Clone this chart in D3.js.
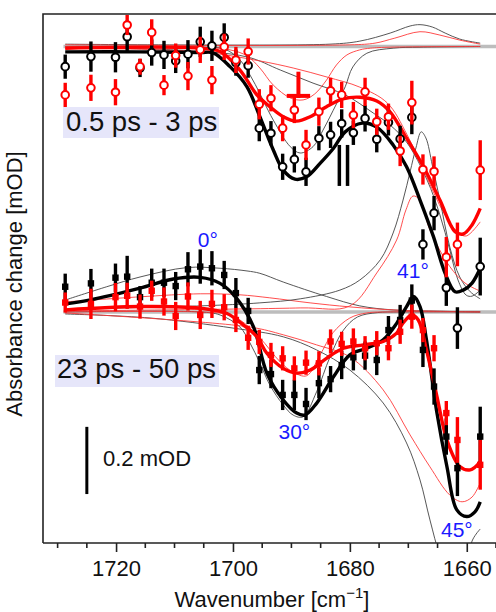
<!DOCTYPE html>
<html>
<head>
<meta charset="utf-8">
<script src="https://cdn.jsdelivr.net/npm/d3@7"></script>
<style>
body { margin: 0; background: #fff; }
svg { display: block; }
text { font-family: "Liberation Sans", Arial, sans-serif; }
</style>
</head>
<body>
<svg id="chart"></svg>
<script>
var w = 496, h = 612;

// wavenumbers of the measured points (cm-1)
let waves = [1728.7, 1724.3, 1720.1, 1718.1, 1715.9, 1713.9, 1711.8, 1709.8, 1707.7, 1705.6, 1703.6,
  1701.5, 1699.5, 1697.4, 1695.5, 1693.5, 1691.5, 1689.5, 1687.5, 1685.3, 1683.3, 1681.4, 1679.4,
  1677.4, 1675.4, 1673.4, 1671.4, 1669.4, 1667.5, 1665.6, 1663.5, 1661.6, 1657.7];

// 0.5 ps - 3 ps (mOD)
let earlyBlack = [-0.060, -0.030, -0.032, 0.029, -0.064, -0.018, -0.025, -0.043, -0.023, 0.014, 0.002,
  0.027, -0.048, -0.057, -0.243, -0.258, -0.358, -0.336, -0.373, -0.273, -0.263, -0.229, -0.257,
  -0.214, -0.276, -0.226, -0.275, -0.211, -0.589, -0.496, -0.718, -0.838, -0.655];
let earlyBlackErr = [0.036, 0.045, 0.045, 0.048, 0.027, 0.039, 0.042, 0.036, 0.042, 0.045, 0.045,
  0.042, 0.039, 0.036, 0.039, 0.036, 0.039, 0.039, 0.042, 0.036, 0.039, 0.042, 0.036,
  0.039, 0.039, 0.039, 0.039, 0.050, 0.045, 0.051, 0.054, 0.062, 0.086];
let earlyRed = [-0.144, -0.123, -0.136, 0.064, -0.060, 0.042, -0.115, -0.027, -0.088, -0.010, -0.100,
  -0.001, -0.040, -0.015, -0.172, -0.154, -0.243, -0.189, -0.293, -0.194, -0.132, -0.144, -0.204,
  -0.135, -0.224, -0.209, -0.311, -0.167, -0.366, -0.372, -0.627, -0.589, -0.368];
let earlyRedErr = [0.036, 0.039, 0.039, 0.030, 0.024, 0.039, 0.030, 0.036, 0.042, 0.039, 0.042,
  0.039, 0.039, 0.039, 0.045, 0.039, 0.039, 0.039, 0.045, 0.042, 0.039, 0.039, 0.039,
  0.042, 0.039, 0.039, 0.045, 0.065, 0.045, 0.045, 0.060, 0.065, 0.089];

// 23 ps - 50 ps (mOD, relative to its own baseline)
let lateBlack = [0.075, 0.085, 0.102, 0.105, 0.044, 0.087, 0.087, 0.077, 0.127, 0.135, 0.130,
  0.110, 0.056, 0.003, -0.173, -0.185, -0.247, -0.247, -0.274, -0.212, -0.200, -0.158, -0.135,
  -0.130, -0.143, -0.054, -0.024, 0.034, -0.113, -0.222, -0.371, -0.465, -0.371];
let lateBlackErr = [0.039, 0.043, 0.042, 0.062, 0.033, 0.042, 0.042, 0.042, 0.051, 0.051, 0.051,
  0.042, 0.045, 0.039, 0.042, 0.042, 0.045, 0.045, 0.048, 0.045, 0.039, 0.042, 0.039,
  0.042, 0.045, 0.042, 0.045, 0.048, 0.051, 0.054, 0.054, 0.083, 0.089];
let lateRed = [0.028, 0.024, 0.044, 0.048, 0.016, 0.063, 0.031, -0.012, 0.046, -0.009, 0.024,
  0.014, -0.024, -0.077, -0.089, -0.128, -0.138, -0.168, -0.151, -0.153, -0.088, -0.095, -0.088,
  -0.108, -0.093, -0.108, -0.059, -0.014, -0.054, -0.108, -0.301, -0.381, -0.455];
let lateRedErr = [0.030, 0.045, 0.042, 0.039, 0.036, 0.030, 0.042, 0.042, 0.042, 0.042, 0.042,
  0.039, 0.036, 0.036, 0.036, 0.036, 0.036, 0.036, 0.036, 0.036, 0.036, 0.036, 0.039,
  0.036, 0.036, 0.036, 0.036, 0.036, 0.036, 0.039, 0.036, 0.068, 0.074];

// fitted curves [wavenumber, mOD]
let earlyFitBlack = [[1728.7, -0.016], [1715.9, -0.016], [1705.6, -0.018], [1703.4, -0.019], [1700.5, -0.060],
  [1697.6, -0.120], [1695.4, -0.209], [1693.1, -0.308], [1691.4, -0.368], [1689.4, -0.395], [1687.4, -0.388],
  [1685.1, -0.348], [1682.8, -0.303], [1680.8, -0.254], [1677.9, -0.228], [1675.4, -0.240], [1672.6, -0.293],
  [1670.3, -0.358], [1668.0, -0.457], [1665.7, -0.566], [1663.7, -0.675], [1662.0, -0.730], [1660.6, -0.725],
  [1659.1, -0.704], [1657.7, -0.660]];
let earlyFitRed = [[1728.7, -0.005], [1705.6, -0.005], [1702.2, -0.015], [1698.8, -0.070], [1695.9, -0.144],
  [1693.7, -0.179], [1691.4, -0.209], [1689.1, -0.222], [1686.8, -0.209], [1684.0, -0.179], [1681.2, -0.156],
  [1678.3, -0.151], [1675.4, -0.162], [1673.1, -0.195], [1670.3, -0.273], [1667.4, -0.358], [1664.6, -0.457],
  [1662.0, -0.551], [1660.6, -0.558], [1659.1, -0.531], [1657.7, -0.482]];
let lateFitBlack = [[1728.6, 0.024], [1724.4, 0.036], [1715.9, 0.071], [1710.2, 0.098], [1705.6, 0.103],
  [1702.2, 0.085], [1699.4, 0.041], [1696.5, -0.044], [1694.2, -0.182], [1691.4, -0.262], [1689.1, -0.301],
  [1687.7, -0.307], [1685.7, -0.272], [1682.8, -0.193], [1680.0, -0.128], [1677.1, -0.108], [1674.3, -0.083],
  [1672.0, -0.034], [1670.3, 0.016], [1669.1, 0.046], [1668.0, 0.016], [1666.9, -0.083], [1665.1, -0.301],
  [1663.4, -0.460], [1661.7, -0.589], [1660.0, -0.609], [1658.6, -0.595], [1657.7, -0.565]];
let lateFitRed = [[1728.6, 0.006], [1715.9, 0.016], [1705.6, 0.011], [1701.1, -0.004], [1698.2, -0.039],
  [1695.9, -0.074], [1694.2, -0.123], [1691.4, -0.168], [1689.1, -0.182], [1686.8, -0.173], [1684.0, -0.138],
  [1681.1, -0.108], [1677.7, -0.098], [1674.3, -0.088], [1672.0, -0.063], [1670.9, -0.033], [1669.4, -0.009],
  [1668.3, -0.024], [1666.9, -0.113], [1665.1, -0.252], [1663.4, -0.381], [1661.2, -0.460], [1659.4, -0.470],
  [1657.7, -0.446]];

// band components, early window
let earlyPosBlack = [[1728.7, 0.007], [1683.4, 0.007], [1678.3, 0.016], [1673.1, 0.040], [1669.7, 0.061],
  [1668.0, 0.065], [1665.9, 0.058], [1663.7, 0.040], [1661.2, 0.022], [1657.7, 0.010]];
let earlyPosRed = [[1728.7, 0.005], [1680.0, 0.005], [1675.7, 0.010], [1672.3, 0.025], [1668.0, 0.044],
  [1664.6, 0.034], [1661.2, 0.019], [1657.7, 0.007]];
let earlyBroadBlack = [[1728.7, -0.005], [1710.2, -0.010], [1697.6, -0.031], [1691.9, -0.070], [1686.3, -0.109],
  [1680.8, -0.144], [1676.0, -0.198], [1673.1, -0.234], [1670.2, -0.287], [1666.8, -0.397], [1664.6, -0.501],
  [1662.9, -0.606], [1661.5, -0.695], [1660.1, -0.740], [1659.1, -0.743], [1657.7, -0.725]];
let earlyBroadRed = [[1728.7, -0.005], [1705.6, -0.016], [1695.4, -0.043], [1689.7, -0.064], [1683.9, -0.091],
  [1678.3, -0.121], [1673.6, -0.168], [1670.2, -0.263], [1666.8, -0.391], [1664.0, -0.493], [1661.6, -0.552],
  [1660.1, -0.564], [1657.7, -0.522]];
let earlyDipBlack = [[1728.7, 0], [1705.6, -0.002], [1701.4, -0.008], [1698.8, -0.040], [1696.6, -0.100],
  [1693.1, -0.219], [1690.2, -0.298], [1688.5, -0.317], [1686.3, -0.298], [1684.6, -0.249], [1682.3, -0.171],
  [1680.8, -0.120], [1679.5, -0.061], [1677.1, -0.020], [1672.6, -0.005], [1668.0, -0.002], [1657.7, 0]];
let earlyDipRed = [[1728.7, 0], [1705.6, -0.002], [1700.5, -0.010], [1697.6, -0.028], [1695.4, -0.064],
  [1693.1, -0.115], [1690.2, -0.153], [1688.0, -0.159], [1686.0, -0.141], [1684.0, -0.100], [1682.3, -0.055],
  [1680.5, -0.025], [1678.3, -0.010], [1676.5, -0.005], [1673.1, -0.002], [1657.7, 0]];

// band components, late window (0°, 30°, 41°, 45°)
let late0Black = [[1728.6, 0.036], [1721.6, 0.075], [1715.9, 0.104], [1707.9, 0.132], [1702.2, 0.130],
  [1697.6, 0.122], [1695.4, 0.115], [1691.4, 0.089], [1684.0, 0.046], [1678.3, 0.018], [1672.6, 0.006],
  [1664.6, 0.002], [1657.7, 0]];
let late0Red = [[1728.6, 0.030], [1715.9, 0.045], [1705.6, 0.054], [1698.8, 0.051], [1693.7, 0.042],
  [1686.8, 0.027], [1680.0, 0.015], [1671.4, 0.005], [1657.7, 0]];
let late30Black = [[1728.7, 0], [1705.6, 0], [1702.2, -0.009], [1698.8, -0.045], [1697.1, -0.092],
  [1695.4, -0.152], [1693.7, -0.217], [1691.4, -0.277], [1689.7, -0.307], [1688.0, -0.312], [1685.7, -0.238],
  [1683.4, -0.134], [1681.1, -0.054], [1678.7, -0.015], [1675.3, -0.002], [1671.4, 0], [1657.7, 0]];
let late30Red = [[1728.7, 0], [1705.6, 0], [1701.4, -0.006], [1698.8, -0.024], [1695.4, -0.077],
  [1691.9, -0.149], [1689.7, -0.179], [1687.4, -0.190], [1685.1, -0.128], [1682.9, -0.062], [1680.0, -0.018],
  [1677.1, -0.003], [1673.1, 0], [1657.7, 0]];
let late41Black = [[1728.7, 0.009], [1705.6, 0.018], [1695.4, 0.027], [1688.5, 0.039], [1681.7, 0.065],
  [1678.3, 0.095], [1674.8, 0.155], [1672.6, 0.235], [1670.9, 0.333], [1669.7, 0.417], [1668.7, 0.488],
  [1667.8, 0.536], [1667.0, 0.518], [1665.9, 0.437], [1664.6, 0.333], [1662.9, 0.193], [1661.2, 0.104],
  [1659.4, 0.060], [1657.7, 0.039]];
let late41Red = [[1728.7, 0.003], [1688.5, 0.012], [1680.0, 0.018], [1675.4, 0.116], [1672.0, 0.214],
  [1670.4, 0.304], [1669.2, 0.345], [1668.0, 0.333], [1666.3, 0.244], [1662.9, 0.135], [1660.3, 0.086],
  [1657.7, 0.062]];
let late45Black = [[1728.7, -0.006], [1714.2, -0.018], [1700.0, -0.048], [1691.4, -0.074], [1685.7, -0.113],
  [1680.0, -0.173], [1674.3, -0.271], [1670.3, -0.390], [1668.0, -0.500], [1666.3, -0.619], [1664.6, -0.723],
  [1662.9, -0.780], [1661.5, -0.786], [1660.1, -0.744], [1659.1, -0.682], [1658.4, -0.661], [1657.7, -0.646]];
let late45Red = [[1728.7, -0.003], [1697.1, -0.045], [1691.4, -0.068], [1685.7, -0.098], [1680.0, -0.134],
  [1674.3, -0.232], [1669.7, -0.366], [1666.3, -0.461], [1662.9, -0.545], [1660.8, -0.565], [1659.1, -0.551],
  [1657.7, -0.509]];

// small markers drawn in the figure
let redMarkStem = [[1688.8, -0.075], [1688.8, -0.153]];
let redMarkBar = [[1690.8, -0.147], [1686.8, -0.147]];
let blackMarks = [[1681.8, -0.293, -0.415], [1680.4, -0.293, -0.415]];

let majorTicks = [1720, 1700, 1680, 1660];
let minorTicks = d3.range(1730, 1654, -5);
let lateOffset = -0.79;
// angle labels: text, wavenumber, mOD relative to the late baseline
let angleLabels = [["0°", 1704.3, 0.194], ["30°", 1689.5, -0.379], ["41°", 1669.2, 0.101], ["45°", 1661.7, -0.669]];
// 0.2 mOD scale bar, relative to the late baseline
let scaleBar = [-0.342, -0.542];
let scaleBarWave = 1725.0;

var x = d3.scaleLinear().domain([1732.5, 1655]).range([43, 496]);
var y = d3.scaleLinear().domain([0, -1]).range([46.5, 382.5]);

var svg = d3.select("#chart").attr("width", w).attr("height", h);

svg.append("clipPath").attr("id", "plotclip")
  .append("rect").attr("x", 43).attr("y", 14).attr("width", 470).attr("height", 529);
var g = svg.append("g").attr("clip-path", "url(#plotclip)");

function curve(off) {
  return d3.line()
    .x(d => x(d[0]))
    .y(d => y(d[1] + off))
    .curve(d3.curveCatmullRom.alpha(0.5));
}

// zero lines
[0, lateOffset].forEach(off => {
  g.append("line")
    .attr("x1", x(1729)).attr("x2", x(1654))
    .attr("y1", y(off)).attr("y2", y(off))
    .attr("stroke", "#bdbdbd").attr("stroke-width", 3.5);
});

// thin components
let thin = [
  [earlyPosBlack, 0, "#444"], [earlyPosRed, 0, "#ff3a3a"],
  [earlyBroadBlack, 0, "#444"], [earlyBroadRed, 0, "#ff3a3a"],
  [earlyDipBlack, 0, "#444"], [earlyDipRed, 0, "#ff3a3a"],
  [late0Black, lateOffset, "#444"], [late0Red, lateOffset, "#ff3a3a"],
  [late30Black, lateOffset, "#444"], [late30Red, lateOffset, "#ff3a3a"],
  [late41Black, lateOffset, "#444"], [late41Red, lateOffset, "#ff3a3a"],
  [late45Black, lateOffset, "#444"], [late45Red, lateOffset, "#ff3a3a"]
];
thin.forEach(t => {
  g.append("path").attr("d", curve(t[1])(t[0]))
    .attr("fill", "none").attr("stroke", t[2]).attr("stroke-width", 0.9);
});

// fits
[[earlyFitBlack, 0, "black"], [earlyFitRed, 0, "red"], [lateFitBlack, lateOffset, "black"], [lateFitRed, lateOffset, "red"]]
  .forEach(t => {
    g.append("path").attr("d", curve(t[1])(t[0]))
      .attr("fill", "none").attr("stroke", t[2]).attr("stroke-width", 3.4);
  });

// data points with error bars
function points(vals, errs, off, col, shape) {
  var pts = waves.map((wv, i) => ({ w: wv, v: vals[i], e: errs[i] }));
  g.selectAll(null).data(pts).enter().append("line")
    .attr("x1", d => x(d.w)).attr("x2", d => x(d.w))
    .attr("y1", d => y(d.v + off + d.e)).attr("y2", d => y(d.v + off - d.e))
    .attr("stroke", col).attr("stroke-width", 3.4);
  if (shape == "circle") {
    g.selectAll(null).data(pts).enter().append("circle")
      .attr("cx", d => x(d.w)).attr("cy", d => y(d.v + off)).attr("r", 3.8)
      .attr("fill", "white").attr("stroke", col).attr("stroke-width", 2);
  } else {
    g.selectAll(null).data(pts).enter().append("rect")
      .attr("x", d => x(d.w) - 3.2).attr("y", d => y(d.v + off) - 3.2)
      .attr("width", 6.4).attr("height", 6.4).attr("fill", col);
  }
}
points(earlyBlack, earlyBlackErr, 0, "black", "circle");
points(earlyRed, earlyRedErr, 0, "red", "circle");
points(lateBlack, lateBlackErr, lateOffset, "black", "square");
points(lateRed, lateRedErr, lateOffset, "red", "square");

// extra markers
var seg = d3.line().x(d => x(d[0])).y(d => y(d[1]));
g.append("path").attr("d", seg(redMarkStem)).attr("stroke", "red").attr("stroke-width", 4);
g.append("path").attr("d", seg(redMarkBar)).attr("stroke", "red").attr("stroke-width", 4);
blackMarks.forEach(m => {
  g.append("line").attr("x1", x(m[0])).attr("x2", x(m[0]))
    .attr("y1", y(m[1])).attr("y2", y(m[2]))
    .attr("stroke", "black").attr("stroke-width", 3.5);
});

// window labels
function windowLabel(txt, bx, by, bw, bh, tx, ty) {
  svg.append("rect").attr("x", bx).attr("y", by).attr("width", bw).attr("height", bh).attr("fill", "#e6e6fa");
  svg.append("text").attr("x", tx).attr("y", ty).attr("font-size", 27.5).attr("fill", "#111").text(txt);
}
windowLabel("0.5 ps - 3 ps", 63, 107, 156, 31, 66, 131);
windowLabel("23 ps - 50 ps", 55, 355, 164, 32, 57, 378);

// angle labels
svg.selectAll(".ang").data(angleLabels).enter().append("text")
  .attr("class", "ang")
  .attr("x", d => x(d[1])).attr("y", d => y(d[2] + lateOffset))
  .attr("text-anchor", "middle").attr("font-size", 21).attr("fill", "#1a1aff")
  .text(d => d[0]);

// scale bar
svg.append("line").attr("x1", x(scaleBarWave)).attr("x2", x(scaleBarWave))
  .attr("y1", y(scaleBar[0] + lateOffset)).attr("y2", y(scaleBar[1] + lateOffset))
  .attr("stroke", "black").attr("stroke-width", 3);
svg.append("text").attr("x", 103).attr("y", 466).attr("font-size", 22).attr("fill", "#111").text("0.2 mOD");

// frame and axes
svg.append("path").attr("d", "M43,543V14H520").attr("fill", "none").attr("stroke", "#222").attr("stroke-width", 1.6);

var axis = svg.append("g").attr("transform", "translate(0,543)")
  .call(d3.axisBottom(x).tickValues(majorTicks).tickSize(9).tickSizeOuter(0).tickFormat(d3.format("d")));
axis.select(".domain").attr("stroke", "#222").attr("stroke-width", 1.6).attr("d", "M43,0H520");
axis.selectAll(".tick line").attr("stroke", "#222").attr("stroke-width", 1.6);
axis.selectAll(".tick text").attr("y", 33).attr("dy", 0).attr("font-size", 22)
  .attr("font-family", "Liberation Sans, Arial, sans-serif").attr("fill", "#111");

svg.append("g").attr("transform", "translate(0,543)")
  .selectAll("line").data(minorTicks.filter(t => majorTicks.indexOf(t) < 0)).enter().append("line")
  .attr("x1", d => x(d)).attr("x2", d => x(d)).attr("y1", 0).attr("y2", 5)
  .attr("stroke", "#222").attr("stroke-width", 1.6);

var xl = svg.append("text").attr("x", 272).attr("y", 607).attr("text-anchor", "middle")
  .attr("font-size", 22).attr("fill", "#111");
xl.append("tspan").text("Wavenumber [cm");
xl.append("tspan").attr("dy", -9).attr("font-size", 15).text("−1");
xl.append("tspan").attr("dy", 9).text("]");

svg.append("text").attr("transform", "translate(22,284) rotate(-90)")
  .attr("text-anchor", "middle").attr("font-size", 22).attr("fill", "#111")
  .text("Absorbance change [mOD]");
</script>
</body>
</html>
